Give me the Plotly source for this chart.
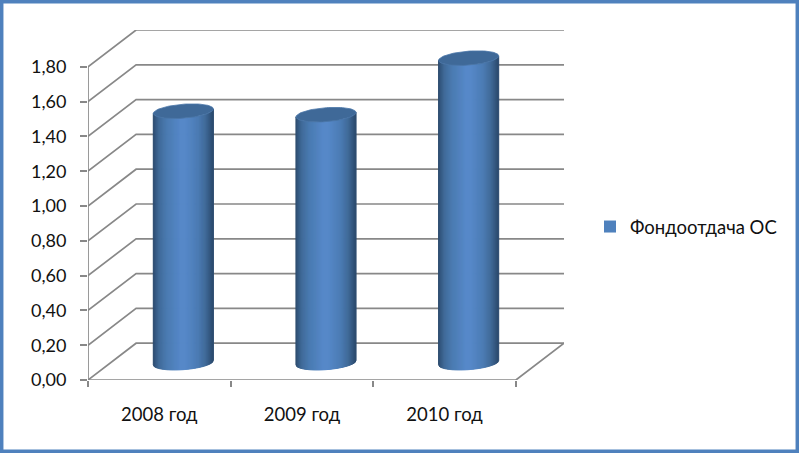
import numpy as np
import plotly.graph_objects as go

categories = ["2008 год", "2009 год", "2010 год"]
series_name = "Фондоотдача ОС"
values = [1.445, 1.425, 1.75]
y_ticks = [0.0, 0.2, 0.4, 0.6, 0.8, 1.0, 1.2, 1.4, 1.6, 1.8]
y_labels = ["0,00", "0,20", "0,40", "0,60", "0,80", "1,00", "1,20", "1,40", "1,60", "1,80"]

W, H = 799, 453
L, R, T, B = 88, 564, 30, 380
DX = 48 / ((515 - 88) / 3)      # wall depth in category units
DY = 0.2114                     # wall depth in value units
X0, X1 = -0.5, 2.5
BAR_W = 60 / ((515 - 88) / 3)
GRID = "#888888"
LW = 1.7

grad_pos = [0, .04, .10, .22, .45, .55, .75, .88, .96, 1]
grad_col = [(42, 72, 106), (52, 88, 128), (64, 106, 152), (74, 122, 176), (86, 136, 200),
            (86, 136, 200), (76, 124, 180), (64, 106, 152), (50, 84, 124), (44, 74, 110)]


def rgb(f):
    c = [np.interp(f, grad_pos, [g[i] for g in grad_col]) for i in range(3)]
    return "rgb(%d,%d,%d)" % tuple(c)


fig = go.Figure()


def line(xs, ys, color=GRID, width=LW):
    fig.add_trace(go.Scatter(x=xs, y=ys, mode="lines", line=dict(color=color, width=width),
                             showlegend=False, hoverinfo="skip", cliponaxis=False))


# walls and floor
for v in y_ticks:
    line([X0, X0 + DX, X1 + DX], [v, v + DY, v + DY])
line([X0, X0], [0, y_ticks[-1]])
line([X0, X1, X1 + DX], [0, 0, DY])

# cylinders
a = BAR_W / 2
px_y = (B - T) / (DY + y_ticks[-1])
tilt = 2.2 / px_y
b = 7.0 / px_y
for i, v in enumerate(values):
    cx = i + DX / 2
    y0 = DY / 2 - 0.006
    y1 = y0 + v
    us = np.linspace(-1, 1, 61)        # one strip per pixel across the cylinder
    xs = cx + a * us
    off = tilt * us - b * np.sqrt(1 - us ** 2)
    for k in range(len(us) - 1):
        f = (us[k] + us[k + 1] + 2) / 4
        px = [xs[k], xs[k + 1], xs[k + 1], xs[k], xs[k]]
        py = [y0 + off[k], y0 + off[k + 1], y1 + off[k + 1], y1 + off[k], y0 + off[k]]
        col = rgb(f)
        fig.add_trace(go.Scatter(x=px, y=py, mode="lines", fill="toself", fillcolor=col,
                                 line=dict(color=col, width=1), showlegend=False, hoverinfo="skip"))
    tt = np.linspace(0, 2 * np.pi, 90)
    fig.add_trace(go.Scatter(x=cx + a * np.cos(tt), y=y1 + tilt * np.cos(tt) + b * np.sin(tt),
                             mode="lines", fill="toself", fillcolor="#3f6998",
                             line=dict(color="#4a76a8", width=0.8), showlegend=False, hoverinfo="skip"))

# legend entry
fig.add_trace(go.Scatter(x=[None], y=[None], mode="markers", name=series_name,
                         marker=dict(symbol="square", size=12, color="#4f81bd")))

pw, ph = R - L, B - T
fig.update_layout(
    width=W, height=H, autosize=False, paper_bgcolor="white", plot_bgcolor="white",
    margin=dict(l=L, r=W - R, t=T, b=H - B, pad=0),
    font=dict(family="Lato", size=18, color="#111111"),
    legend=dict(x=(590 - L) / pw, y=(B - 227) / ph, xanchor="left", yanchor="middle",
                bgcolor="rgba(0,0,0,0)", font=dict(size=18.5)),
    xaxis=dict(range=[X0, X1 + DX], showgrid=False, zeroline=False, showline=False,
               tickmode="array", tickvals=[0, 1, 2], ticktext=categories, ticks="", ticklabelstandoff=21,
               tickfont=dict(size=18.5),
               minor=dict(tickmode="array", tickvals=[-0.5, 0.5, 1.5, 2.5], ticks="outside",
                          ticklen=6, tickwidth=LW, tickcolor=GRID, showgrid=False)),
    yaxis=dict(range=[0, y_ticks[-1] + DY], showgrid=False, zeroline=False, showline=False,
               tickmode="array", tickvals=y_ticks, ticktext=y_labels, ticks="outside",
               ticklen=7, tickwidth=LW, tickcolor=GRID, ticklabelstandoff=10),
    shapes=[dict(type="rect", xref="paper", yref="paper", layer="above",
                 x0=(1.7 - L) / pw, x1=(W - 1.7 - L) / pw,
                 y0=(B - (H - 1.7)) / ph, y1=(B - 1.7) / ph,
                 line=dict(color="#4f81bd", width=3.5), fillcolor="rgba(0,0,0,0)")],
)
fig.write_html("out.html", config=dict(displayModeBar=False),
               post_script="document.body.style.margin='0';document.body.style.overflow='hidden';")
